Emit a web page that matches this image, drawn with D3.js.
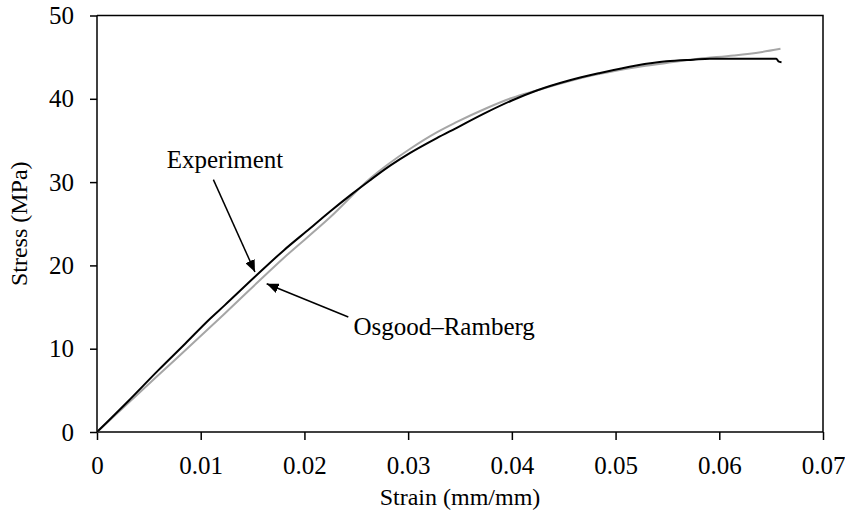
<!DOCTYPE html>
<html>
<head>
<meta charset="utf-8">
<script src="https://cdn.jsdelivr.net/npm/d3@7"></script>
<style>
  body { margin: 0; background: #fff; }
  text { font-family: "Liberation Serif", "Times New Roman", serif; fill: #000; }
</style>
</head>
<body>
<svg id="chart" width="845" height="520"></svg>
<script>
// values (strain in mm/mm, stress in MPa)
const expStrain = [0, 0.003, 0.0059, 0.0085, 0.0109, 0.0123, 0.0152, 0.0180, 0.0205, 0.0225, 0.0245, 0.0263, 0.0283, 0.0302, 0.0328, 0.0345, 0.0376, 0.0400, 0.0424, 0.0455, 0.0485, 0.0520, 0.0549, 0.0575, 0.0591, 0.0655, 0.0657, 0.0660];
const expStress = [0, 3.7, 7.4, 10.6, 13.6, 15.2, 18.6, 21.8, 24.4, 26.5, 28.5, 30.2, 32.0, 33.5, 35.3, 36.4, 38.4, 39.8, 41.0, 42.2, 43.1, 44.0, 44.5, 44.7, 44.8, 44.8, 44.5, 44.4];

const orStrain = [0, 0.0059, 0.0123, 0.0180, 0.0225, 0.0263, 0.0302, 0.0328, 0.0345, 0.0376, 0.0400, 0.0424, 0.0455, 0.0485, 0.0520, 0.0549, 0.0580, 0.0614, 0.0640, 0.0659];
const orStress = [0, 6.8, 14.2, 20.9, 25.8, 30.4, 34.0, 36.0, 37.1, 38.9, 40.1, 41.0, 42.1, 43.0, 43.8, 44.3, 44.8, 45.2, 45.6, 46.0];

const xTicks = [0, 0.01, 0.02, 0.03, 0.04, 0.05, 0.06, 0.07];
const yTicks = [0, 10, 20, 30, 40, 50];

// annotations: label, text anchor point, arrow tail, arrow tip (data units)
const notes = [
  { label: "Experiment", at: [0.00672, 31.7], from: [0.01122, 30.3], to: [0.01523, 19.2] },
  { label: "Osgood\u2013Ramberg", at: [0.02472, 11.6], from: [0.02423, 13.8], to: [0.01636, 17.8] }
];

const margin = {top: 15.5, right: 22, bottom: 88, left: 97};
const W = 845, H = 520;
const innerW = W - margin.left - margin.right,
      innerH = H - margin.top - margin.bottom;

const svg = d3.select("#chart");
const g = svg.append("g").attr("transform", `translate(${margin.left},${margin.top})`);

const x = d3.scaleLinear().domain([0, 0.07]).range([0, innerW]);
const y = d3.scaleLinear().domain([0, 50]).range([innerH, 0]);

svg.append("defs").append("marker")
    .attr("id", "head")
    .attr("viewBox", "0 0 12 10")
    .attr("refX", 12).attr("refY", 5)
    .attr("markerWidth", 12).attr("markerHeight", 10)
    .attr("markerUnits", "userSpaceOnUse")
    .attr("orient", "auto")
  .append("path")
    .attr("d", "M0,0 L12,5 L0,10 Z")
    .attr("fill", "#000");

// frame (top and right)
g.append("path")
    .attr("d", `M0,0 H${innerW} V${innerH}`)
    .attr("fill", "none")
    .attr("stroke", "#000")
    .attr("stroke-width", 1.5);

const xAxis = g.append("g")
    .attr("transform", `translate(0,${innerH})`)
    .call(d3.axisBottom(x).tickValues(xTicks).tickSize(8).tickPadding(16)
      .tickFormat(d => d === 0 ? "0" : d3.format(".2f")(d)));

const yAxis = g.append("g")
    .call(d3.axisLeft(y).tickValues(yTicks).tickSize(7).tickPadding(16));

[xAxis, yAxis].forEach(a => {
  a.select(".domain").attr("stroke", "#000").attr("stroke-width", 1.5);
  a.selectAll(".tick line").attr("stroke", "#000").attr("stroke-width", 1.5);
  a.selectAll(".tick text").style("font-size", "25px").style("font-family", "Liberation Serif");
});
xAxis.select(".domain").attr("d", `M0,0 H${innerW}`);
yAxis.select(".domain").attr("d", `M0,${innerH} V0`);

const line = d3.line().x(d => x(d[0])).y(d => y(d[1])).curve(d3.curveMonotoneX);

g.append("path")
    .datum(d3.zip(orStrain, orStress))
    .attr("d", line)
    .attr("fill", "none")
    .attr("stroke", "#a6a6a6")
    .attr("stroke-width", 2);

g.append("path")
    .datum(d3.zip(expStrain, expStress))
    .attr("d", line)
    .attr("fill", "none")
    .attr("stroke", "#000")
    .attr("stroke-width", 2);

// annotations
notes.forEach(n => {
  g.append("line")
      .attr("x1", x(n.from[0])).attr("y1", y(n.from[1]))
      .attr("x2", x(n.to[0])).attr("y2", y(n.to[1]))
      .attr("stroke", "#000")
      .attr("stroke-width", 1.5)
      .attr("marker-end", "url(#head)");
  g.append("text")
      .attr("x", x(n.at[0])).attr("y", y(n.at[1]))
      .style("font-size", "25px")
      .text(n.label);
});

// axis titles
svg.append("text")
    .attr("x", margin.left + innerW / 2)
    .attr("y", 505)
    .attr("text-anchor", "middle")
    .style("font-size", "24px")
    .text("Strain (mm/mm)");

svg.append("text")
    .attr("transform", `translate(27,${margin.top + innerH / 2}) rotate(-90)`)
    .attr("text-anchor", "middle")
    .style("font-size", "24px")
    .text("Stress (MPa)");
</script>
</body>
</html>
